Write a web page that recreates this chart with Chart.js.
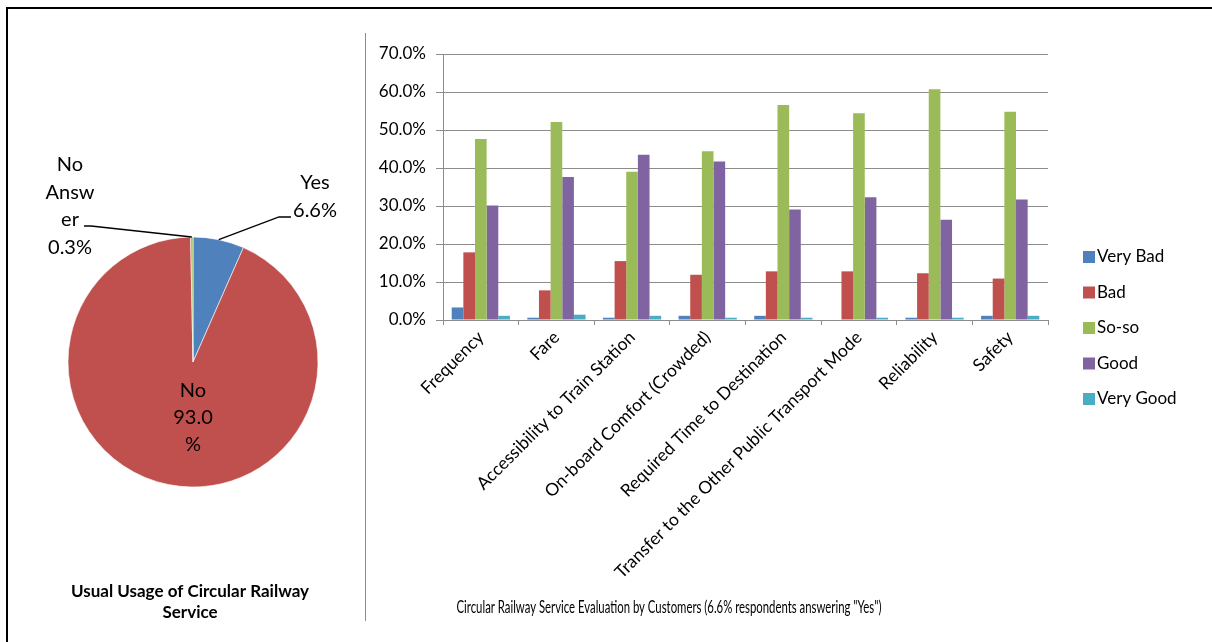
<!DOCTYPE html>
<html>
<head>
<meta charset="utf-8">
<title>Circular Railway Service</title>
<script src="https://cdn.jsdelivr.net/npm/chart.js@4.4.1/dist/chart.umd.min.js"></script>
<style>
  html, body { margin: 0; padding: 0; background: #fff; }
  #wrap { position: relative; width: 1212px; height: 642px; overflow: hidden; background: #fff; }
  #frameTop { position: absolute; left: 6px; top: 7px; width: 1206px; height: 2px; background: #000; }
  #frameLeft { position: absolute; left: 6px; top: 7px; width: 2px; height: 635px; background: #000; }
  #divider { position: absolute; left: 365px; top: 33px; width: 1px; height: 588px; background: #8c8c8c; }
  #pieCanvas { position: absolute; left: 0; top: 0; }
  #barCanvas { position: absolute; left: 366px; top: 0; }
</style>
</head>
<body>
<div id="wrap">
  <canvas id="pieCanvas" width="366" height="642"></canvas>
  <canvas id="barCanvas" width="846" height="642"></canvas>
  <div id="frameTop"></div>
  <div id="frameLeft"></div>
  <div id="divider"></div>
</div>
<script>
// ---- Usual usage (pie) ----
const pieLabels = ['Yes', 'No', 'No Answer'];
const pieValues = [6.6, 93.0, 0.3];
const pieColors = ['#4F81BD', '#C0504D', '#9BBB59'];
const pieTitle = ['Usual Usage of Circular Railway', 'Service'];

// ---- Service evaluation (grouped bars) ----
const categories = [
  'Frequency',
  'Fare',
  'Accessibility to Train Station',
  'On-board Comfort (Crowded)',
  'Required Time to Destination',
  'Transfer to the Other Public Transport Mode',
  'Reliability',
  'Safety'
];
const seriesNames = ['Very Bad', 'Bad', 'So-so', 'Good', 'Very Good'];
const veryBad  = [3.3, 0.6, 0.6, 1.1, 1.1, 0.0, 0.6, 1.1];
const bad      = [17.8, 7.8, 15.5, 11.9, 12.8, 12.8, 12.3, 10.9];
const soSo     = [47.6, 52.1, 39.0, 44.4, 56.6, 54.4, 60.7, 54.8];
const good     = [30.1, 37.6, 43.5, 41.7, 29.1, 32.3, 26.4, 31.7];
const veryGood = [1.1, 1.4, 1.1, 0.6, 0.6, 0.6, 0.6, 1.1];
const seriesColors = ['#4F81BD', '#C0504D', '#9BBB59', '#8064A2', '#4BACC6'];
const yTickValues = [0, 10, 20, 30, 40, 50, 60, 70];
const barTitle = 'Circular Railway Service Evaluation by Customers (6.6% respondents answering "Yes")';

const FONT = 'Lato, "Liberation Sans", Arial, sans-serif';
const pct = v => v.toFixed(1) + '%';

// Label text lines for each slice, wrapped the way the chart shows them
function sliceLines(i) {
  const p = pct(pieValues[i]);
  if (i === 0) return [pieLabels[0], p];
  if (i === 1) return [pieLabels[1], p.slice(0, -1), '%'];
  return ['No', 'Answ', 'er', p];
}

const pieText = {
  id: 'pieText',
  afterDraw(chart) {
    const ctx = chart.ctx;
    const arcs = chart.getDatasetMeta(0).data;
    const edge = (arc) => {
      const a = (arc.startAngle + arc.endAngle) / 2;
      return [arc.x + Math.cos(a) * arc.outerRadius, arc.y + Math.sin(a) * arc.outerRadius];
    };
    ctx.save();
    ctx.fillStyle = '#000';
    ctx.strokeStyle = '#000';
    ctx.lineWidth = 1.3;
    ctx.font = '20px ' + FONT;
    ctx.textAlign = 'center';
    ctx.textBaseline = 'middle';

    // Yes: outside label with leader line
    const yes = sliceLines(0);
    ctx.fillText(yes[0], 315, 183);
    ctx.fillText(yes[1], 315, 211);
    let [ex, ey] = edge(arcs[0]);
    ctx.beginPath();
    ctx.moveTo(ex, ey);
    ctx.lineTo(279, 217);
    ctx.lineTo(291, 217);
    ctx.stroke();

    // No: inside label
    const no = sliceLines(1);
    no.forEach((t, k) => ctx.fillText(t, 193, 391 + k * 27));

    // No Answer: outside label with leader line
    const na = sliceLines(2);
    na.forEach((t, k) => ctx.fillText(t, 70, 165 + k * 27.5));
    [ex, ey] = edge(arcs[2]);
    ctx.beginPath();
    ctx.moveTo(84, 226);
    ctx.lineTo(91, 226);
    ctx.lineTo(ex, ey);
    ctx.stroke();

    // Title
    ctx.font = 'bold 17px ' + FONT;
    ctx.fillText(pieTitle[0], 190, 592);
    ctx.fillText(pieTitle[1], 190, 613);
    ctx.restore();
  }
};

new Chart(document.getElementById('pieCanvas'), {
  type: 'pie',
  data: {
    labels: pieLabels,
    datasets: [{
      data: pieValues,
      backgroundColor: pieColors,
      borderColor: '#ffffff',
      borderWidth: 0.6
    }]
  },
  options: {
    responsive: false,
    animation: false,
    radius: 125,
    layout: { padding: { left: 68, right: 48, top: 237, bottom: 155 } },
    plugins: { legend: { display: false }, tooltip: { enabled: false }, title: { display: false } }
  },
  plugins: [pieText]
});

const barExtras = {
  id: 'barExtras',
  afterDraw(chart) {
    const ctx = chart.ctx;
    ctx.save();
    // legend
    ctx.font = '17px ' + FONT;
    ctx.textAlign = 'left';
    ctx.textBaseline = 'middle';
    chart.data.datasets.forEach((ds, i) => {
      const cy = 257 + i * 35.5;
      ctx.fillStyle = ds.backgroundColor;
      ctx.fillRect(717, cy - 6, 12, 12);
      ctx.fillStyle = '#000';
      ctx.fillText(ds.label, 731, cy);
    });
    // title under the chart, condensed to its box width
    ctx.font = '18px ' + FONT;
    ctx.textAlign = 'center';
    ctx.fillText(barTitle, 303, 607, 425);
    ctx.restore();
  }
};

const valueSets = [veryBad, bad, soSo, good, veryGood];

new Chart(document.getElementById('barCanvas'), {
  type: 'bar',
  data: {
    labels: categories,
    datasets: seriesNames.map((name, i) => ({
      label: name,
      data: valueSets[i],
      backgroundColor: seriesColors[i],
      borderWidth: 0,
      categoryPercentage: 0.77,
      barPercentage: 1.0
    }))
  },
  options: {
    responsive: false,
    animation: false,
    layout: { padding: { left: 0, right: 164, top: 54, bottom: 0 } },
    plugins: { legend: { display: false }, tooltip: { enabled: false }, title: { display: false } },
    scales: {
      x: {
        afterFit: s => { s.height = 322; },
        grid: { drawOnChartArea: false, drawTicks: true, tickLength: 5, color: '#8c8c8c', offset: true },
        border: { display: true, color: '#8c8c8c', width: 1 },
        ticks: {
          autoSkip: false,
          minRotation: 45,
          maxRotation: 45,
          padding: 2,
          color: '#000',
          font: { family: FONT, size: 17.5 }
        }
      },
      y: {
        min: 0,
        max: 70,
        afterFit: s => { s.width = 77; },
        afterBuildTicks: s => { s.ticks = yTickValues.map(v => ({ value: v })); },
        grid: { color: '#8c8c8c', lineWidth: 1, tickLength: 7 },
        border: { display: true, color: '#8c8c8c', width: 1 },
        ticks: {
          padding: 10,
          color: '#000',
          font: { family: FONT, size: 17 },
          callback: v => pct(v)
        }
      }
    }
  },
  plugins: [barExtras]
});
</script>
</body>
</html>
